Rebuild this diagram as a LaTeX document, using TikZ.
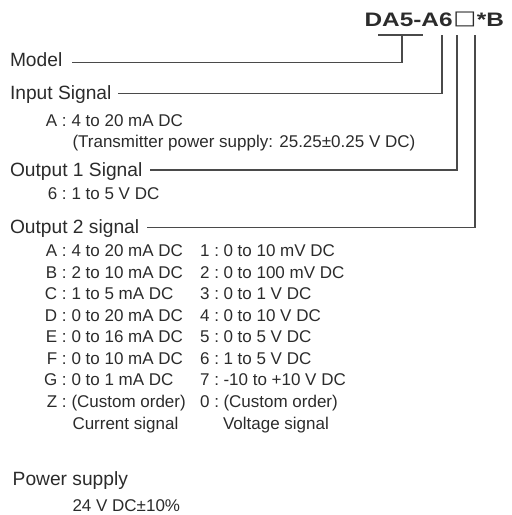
\documentclass[tikz,border=0pt]{standalone}
\usepackage{fontspec}
\setmainfont{Liberation Sans}
\newfontfamily\boxfont{DejaVu Sans}
\definecolor{txt}{HTML}{2B2B2B}
\definecolor{ln}{HTML}{4A4A4A}
\tikzset{
  every node/.style={inner sep=0pt, outer sep=0pt, text=txt},
  head/.style={anchor=base west, font=\fontsize{19.2}{20}\selectfont},
  lab/.style={anchor=base east, font=\fontsize{17}{18}\selectfont},
  val/.style={anchor=base west, font=\fontsize{17}{18}\selectfont},
  conn/.style={draw=ln, line width=1.3pt, line join=miter},
}
\begin{document}
\begin{tikzpicture}[x=1pt,y=-1pt]
\useasboundingbox (0,0) rectangle (512,515);
% title
\node[anchor=base east, font=\bfseries\fontsize{19.5}{20}\selectfont, xscale=1.25] (title) at (504,26) {DA5-A6{\boxfont\mdseries\kern0.5pt\raisebox{1.6pt}{□}\kern0.5pt}*B};
% headings
\node[head] (model) at (10,66) {Model};
\node[head] (input) at (10,99.3) {Input Signal};
\node[head] (out1) at (10,176.5) {Output 1 Signal};
\node[head] (out2) at (10,233) {Output 2 signal};
\node[head] (power) at (12.7,485) {Power supply};
% input
\node[lab] (inAl) at (66.7,126) {A :};
\node[val] (inA) at (71.5,126) {4 to 20 mA DC};
\node[val] (inTr) at (72.5,147) {(Transmitter power supply: 25.25±0.25 V DC)};
% output 1
\node[lab] (o1l) at (66.7,199) {6 :};
\node[val] (o1v) at (71.5,199) {1 to 5 V DC};
% output 2 list
\foreach \i/\a/\c/\d [count=\n] in {
  A/4 to 20 mA DC/1/0 to 10 mV DC,
  B/2 to 10 mA DC/2/0 to 100 mV DC,
  C/1 to 5 mA DC/3/0 to 1 V DC,
  D/0 to 20 mA DC/4/0 to 10 V DC,
  E/0 to 16 mA DC/5/0 to 5 V DC,
  F/0 to 10 mA DC/6/1 to 5 V DC,
  G/0 to 1 mA DC/7/-10 to +10 V DC,
  Z/(Custom order)/0/(Custom order)}{
  \pgfmathsetmacro{\yy}{256.7+21.5*(\n-1)}
  \node[lab] (cl\n) at (66.7,\yy) {\i\ :};
  \node[val] (cv\n) at (71.5,\yy) {\a};
  \node[lab] (vl\n) at (219,\yy) {\c\ :};
  \node[val] (vv\n) at (223.5,\yy) {\d};
}
\node[val] (cur) at (72.5,429.7) {Current signal};
\node[val] (volt) at (223,429.7) {Voltage signal};
% power
\node[val] (pw) at (72.5,511) {24 V DC±10\%};
% connector coordinates
\coordinate (bl) at (378,35);
\coordinate (br) at (423,35);
\coordinate (m0) at (72,62.3);
\coordinate (m1) at (402,62.3);
\coordinate (m2) at (402,35);
\coordinate (i0) at (118,93.3);
\coordinate (i1) at (442,93.3);
\coordinate (i2) at (442,35);
\coordinate (a0) at (150,170);
\coordinate (a1) at (457,170);
\coordinate (a2) at (457,35);
\coordinate (b0) at (147,227.7);
\coordinate (b1) at (475,227.7);
\coordinate (b2) at (475,35);
\draw[conn] (bl) -- (br);
\draw[conn] (m0) -- (m1) -- (m2);
\draw[conn] (i0) -- (i1) -- (i2);
\draw[conn] (a0) -- (a1) -- (a2);
\draw[conn] (b0) -- (b1) -- (b2);
\end{tikzpicture}
\end{document}
